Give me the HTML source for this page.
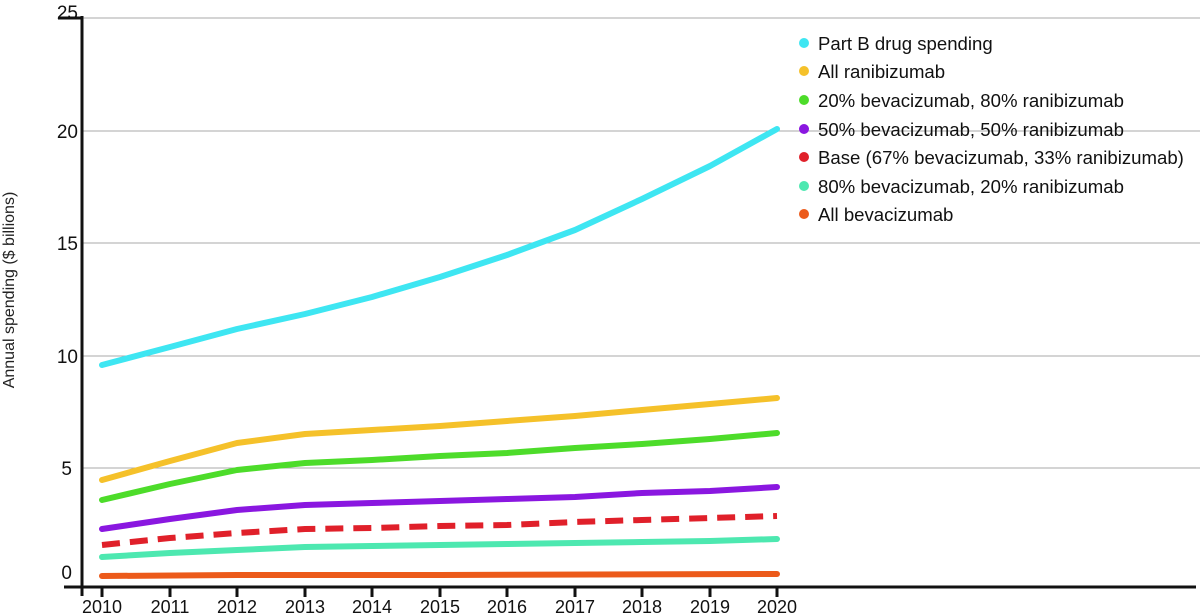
<!DOCTYPE html>
<html><head><style>
html,body{margin:0;padding:0;background:#fff;}
svg{display:block;font-family:"Liberation Sans",sans-serif;}
</style></head><body>
<svg width="1200" height="613" viewBox="0 0 1200 613" xmlns="http://www.w3.org/2000/svg">
<g stroke="#aaa" stroke-width="1">
<line x1="82" y1="18" x2="1200" y2="18"/>
<line x1="82" y1="131" x2="1200" y2="131"/>
<line x1="82" y1="243" x2="1200" y2="243"/>
<line x1="82" y1="356" x2="1200" y2="356"/>
<line x1="82" y1="468" x2="1200" y2="468"/>
</g>
<g stroke="#111" stroke-width="3">
<line x1="82" y1="16" x2="82" y2="596"/>
<line x1="64" y1="587" x2="1196" y2="587"/>
<line x1="58" y1="18" x2="82" y2="18"/>
</g>
<g stroke="#111" stroke-width="3">
<line x1="102" y1="587" x2="102" y2="597"/><line x1="170" y1="587" x2="170" y2="597"/><line x1="237" y1="587" x2="237" y2="597"/><line x1="305" y1="587" x2="305" y2="597"/><line x1="372" y1="587" x2="372" y2="597"/><line x1="440" y1="587" x2="440" y2="597"/><line x1="507" y1="587" x2="507" y2="597"/><line x1="575" y1="587" x2="575" y2="597"/><line x1="642" y1="587" x2="642" y2="597"/><line x1="710" y1="587" x2="710" y2="597"/><line x1="777" y1="587" x2="777" y2="597"/>
</g>
<g font-size="18" fill="#111" text-anchor="middle">
<text x="102" y="613">2010</text><text x="170" y="613">2011</text><text x="237" y="613">2012</text><text x="305" y="613">2013</text><text x="372" y="613">2014</text><text x="440" y="613">2015</text><text x="507" y="613">2016</text><text x="575" y="613">2017</text><text x="642" y="613">2018</text><text x="710" y="613">2019</text><text x="777" y="613">2020</text>
</g>
<g font-size="19" fill="#111" text-anchor="end">
<text x="78" y="19">25</text><text x="78" y="138">20</text><text x="78" y="250">15</text><text x="78" y="363">10</text><text x="72" y="475">5</text><text x="72" y="579">0</text>
</g>
<text transform="translate(14,290) rotate(-90)" font-size="16" fill="#222" text-anchor="middle">Annual spending ($ billions)</text>
<g fill="none" stroke-width="6" stroke-linecap="round" stroke-linejoin="round">
<polyline stroke="#ec5a1a" points="102,576 237,575 440,575 777,574"/>
<polyline stroke="#4de8b0" points="102,557 170,553 237,550 305,547 372,546 440,545 507,544 575,543 642,542 710,541 777,539"/>
<polyline stroke="#e0202a" stroke-dasharray="18,10" stroke-linecap="butt" points="102,545 170,538 237,533 305,529 372,528 440,526 507,525 575,522 642,520 710,518 777,516"/>
<polyline stroke="#8a17e0" points="102,529 170,519 237,510 305,505 372,503 440,501 507,499 575,497 642,493 710,491 777,487"/>
<polyline stroke="#4ddc2a" points="102,500 170,484 237,470 305,463 372,460 440,456 507,453 575,448 642,444 710,439 777,433"/>
<polyline stroke="#f5c12a" points="102,480 170,461 237,443 305,434 372,430 440,426 507,421 575,416 642,410 710,404 777,398"/>
<polyline stroke="#3ee6f2" points="102,365 170,347 237,329 305,314 372,297 440,277 507,255 575,230 642,199 710,166 777,129"/>
</g>
<line x1="780" y1="131" x2="796" y2="131" stroke="#aaa"/>
<g font-size="18.6" fill="#111">
<circle cx="804" cy="43" r="5" fill="#3ee6f2"/><text x="818" y="50">Part B drug spending</text>
<circle cx="804" cy="71" r="5" fill="#f5c12a"/><text x="818" y="78">All ranibizumab</text>
<circle cx="804" cy="100" r="5" fill="#4ddc2a"/><text x="818" y="107">20% bevacizumab, 80% ranibizumab</text>
<circle cx="804" cy="129" r="5" fill="#8a17e0"/><text x="818" y="136">50% bevacizumab, 50% ranibizumab</text>
<circle cx="804" cy="157" r="5" fill="#e0202a"/><text x="818" y="164">Base (67% bevacizumab, 33% ranibizumab)</text>
<circle cx="804" cy="186" r="5" fill="#4de8b0"/><text x="818" y="193">80% bevacizumab, 20% ranibizumab</text>
<circle cx="804" cy="214" r="5" fill="#ec5a1a"/><text x="818" y="221">All bevacizumab</text>
</g>
</svg>
</body></html>
